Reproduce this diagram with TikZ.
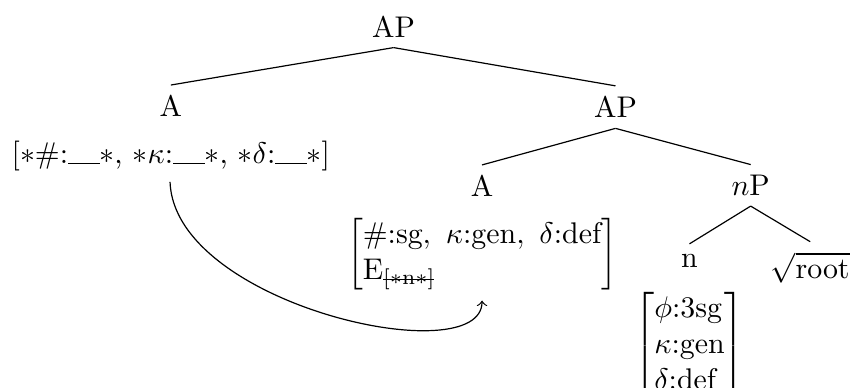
\documentclass[tikz,border=0pt]{standalone}
\usepackage{amsmath}

\newcommand{\gapslot}{\rule{1.05em}{0.4pt}}
\newcommand{\struck}[1]{\mbox{\scriptsize\ooalign{#1\cr\leaders\hrule height 0.62ex depth -0.55ex\hfil\cr}}}

\begin{document}
\begin{tikzpicture}[>=to, branch/.style={line width=0.4pt}]
                % Frame
                \useasboundingbox (0, 0) rectangle (10.01, -4.56);

                % Category labels
                \node (ap1) at (4.63, -0.31) {AP};
                \node (a1) at (2.01, -1.25) {A};
                \node (ap2) at (7.24, -1.26) {AP};
                \node (a2) at (5.67, -2.19) {A};
                \node (np) at (8.83, -2.18) {$n$P};
                \node (n) at (8.11, -3.07) {n};
                \node (root) at (9.53, -3.15) {$\sqrt{\mathrm{root}}$};

                % Feature bundles
                \node (feat1) at (2.01, -1.84) {[$\ast$\#:\gapslot$\ast$, $\ast\kappa$:\gapslot$\ast$, $\ast\delta$:\gapslot$\ast$]};
                \node (feat2) at (5.67, -2.99) {$\left[\begin{array}{@{}l@{}}
                        \#\text{:sg}, \ \kappa\text{:gen}, \ \delta\text{:def}\\
                        \mathrm{E}_{\struck{[$\ast$n$\ast$]}}
                    \end{array}\right]$};
                \node (feat3) at (8.11, -4.07) {$\left[\begin{array}{@{}l@{}}
                        \phi\text{:3sg}\\
                        \kappa\text{:gen}\\
                        \delta\text{:def}
                    \end{array}\right]$};

                % Branches
                \draw[branch] (ap1.south) -- (a1.north);
                \draw[branch] (ap1.south) -- (ap2.north);
                \draw[branch] (ap2.south) -- (a2.north);
                \draw[branch] (ap2.south) -- (np.north);
                \draw[branch] (np.south) -- (n.north);
                \draw[branch] (np.south) -- (root.north);

                % Agreement arrow
                \coordinate (kap) at (2.00, -2.14);
                \draw[->] (kap) to[out=-88, in=-90, out distance=1.45cm, in distance=0.85cm] (feat2.south);
            \end{tikzpicture}
\end{document}
